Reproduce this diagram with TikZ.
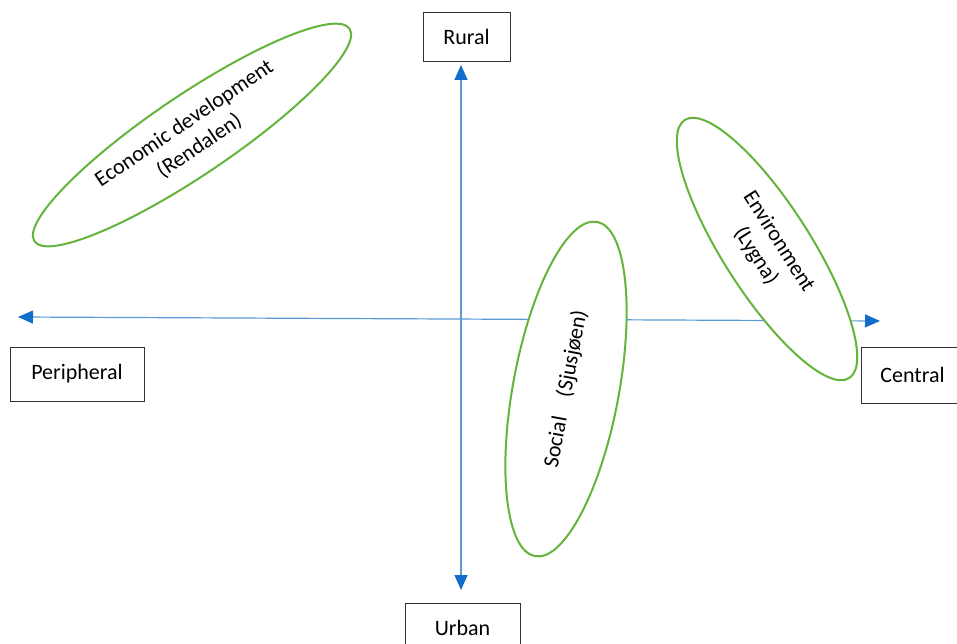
\documentclass[tikz,border=0pt]{standalone}
\usepackage{fontspec}
\setmainfont{Carlito}
\usetikzlibrary{arrows.meta,shapes.geometric}

\definecolor{axisblue}{RGB}{91,155,213}
\definecolor{tipblue}{RGB}{18,110,205}
\definecolor{ringgreen}{RGB}{100,180,60}

\begin{document}
\begin{tikzpicture}[x=1pt, y=1pt,
  font=\fontsize{22}{27}\selectfont,
  endbox/.style={draw=black!80, line width=0.8pt, minimum height=50pt, inner sep=0pt},
  axis/.style={axisblue, line width=1.2pt,
    {Triangle[length=15pt, width=13pt, color=tipblue]}-{Triangle[length=15pt, width=13pt, color=tipblue]}},
  ring/.style={draw=ringgreen, line width=2pt, fill=white, ellipse, inner sep=0pt, align=center}]

\useasboundingbox (0,0) rectangle (957,643);

% end labels of the two axes
\node[endbox, minimum width=87pt, minimum height=49pt] (rural) at (466.5,606.5) {Rural};
\node[endbox, minimum width=115pt] (urban) at (462.5,15) {Urban};
\node[endbox, minimum width=134pt, minimum height=54pt] (peripheral) at (77,269) {Peripheral};
\node[endbox, minimum width=103pt, minimum height=56pt] (central) at (912.5,268) {Central};

% axis tips
\coordinate (ruraltip) at (461,578);
\coordinate (urbantip) at (461,53);
\coordinate (peritip) at (18,326);
\coordinate (centtip) at (880,322);

\draw[axis] (urbantip) -- (ruraltip);
\draw[axis] (peritip) -- (centtip);

% the three cases
\node[ring, minimum width=380pt, minimum height=80pt, rotate=34] (econ) at (192,508)
  {Economic development\\(Rendalen)};
\node[ring, minimum width=340pt, minimum height=106pt, rotate=79.5] (social) at (566,254)
  {Social\hspace{0.9em}(Sjusjøen)};
\node[ring, minimum width=306pt, minimum height=88pt, rotate=-57.5] (envir) at (767,394)
  {Environment\\(Lygna)};

\end{tikzpicture}
\end{document}
